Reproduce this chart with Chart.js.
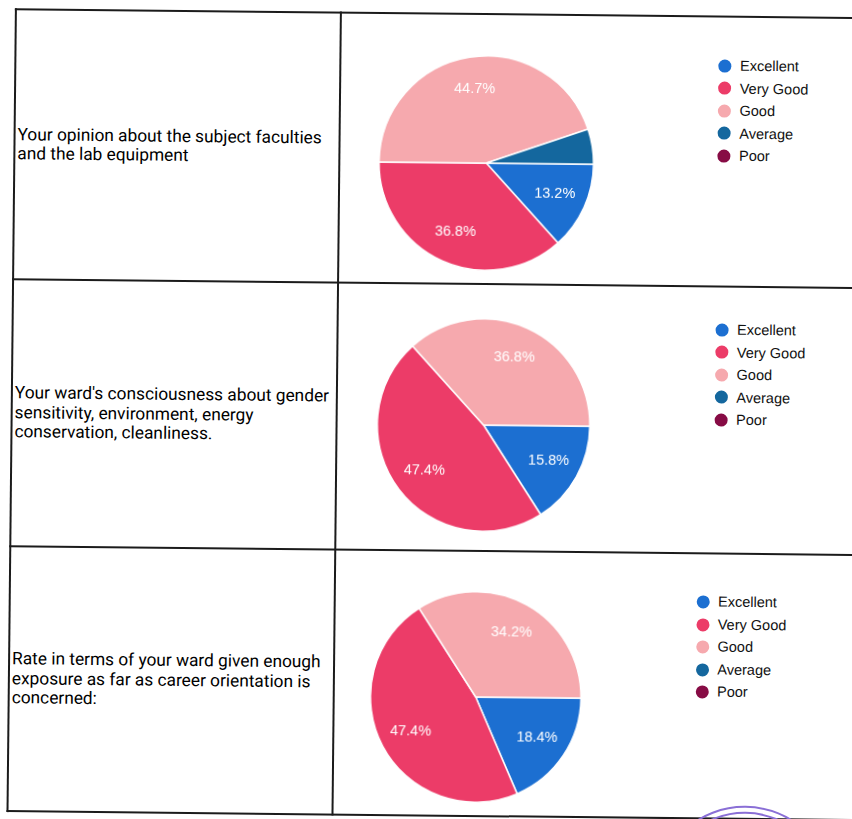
<!DOCTYPE html>
<html>
<head>
<meta charset="utf-8">
<script src="https://cdn.jsdelivr.net/npm/chart.js@4.4.1/dist/chart.umd.min.js"></script>
<style>
    html, body { margin: 0; padding: 0; background: #fff; overflow: hidden; }
    body { width: 852px; height: 819px; position: relative; }
    #page { position: absolute; left: 0; top: 0; width: 852px; height: 819px; transform: rotate(0.6deg); transform-origin: 0 0; }
    .linha { position: absolute; background: #1b1b1b; }
    .pergunta { position: absolute; display: flex; align-items: center; font-family: Roboto, 'Noto Sans', sans-serif; font-size: 17.3px; line-height: 19.5px; color: #000; white-space: nowrap; }
    .grafico { position: absolute; }
    .legenda { position: absolute; font-family: 'Liberation Sans', Arial, sans-serif; font-size: 14.5px; color: #111; }
    .legenda div { height: 22.5px; line-height: 22.5px; display: flex; align-items: center; white-space: nowrap; }
    .legenda span { display: inline-block; width: 13px; height: 13px; border-radius: 50%; margin-right: 8.5px; }
    .selo { position: absolute; border-radius: 50%; border: 2px solid #8a6fd6; }
</style>
</head>
<body>
<div id="page"></div>
<script>
// categorias e cores (Google Forms)
const categorias = ['Excellent', 'Very Good', 'Good', 'Average', 'Poor'];
const cores = ['#1c6fd1', '#ec3c68', '#f6a9ae', '#14679e', '#870c45'];

const perguntas = [
    ['Your opinion about the subject faculties', 'and the lab equipment'],
    ["Your ward's consciousness about gender", 'sensitivity, environment, energy', 'conservation, cleanliness.'],
    ['Rate in terms of your ward given enough', 'exposure as far as career orientation is', 'concerned:']
];

// percentuais
const valoresOpiniao = [13.2, 36.8, 44.7, 5.3, 0];
const valoresConsciencia = [15.8, 47.4, 36.8, 0, 0];
const valoresCarreira = [18.4, 47.4, 34.2, 0, 0];
const series = [valoresOpiniao, valoresConsciencia, valoresCarreira];

// geometria da tabela (linhas) e posição de cada pizza / legenda
const linhasY = [9, 279, 545.5, 811];
const colEsq = 16, colDiv = 341;
const layout = [
    { cx: 487.7, cy: 158, r: 107, lx: 725.7, ly: 58.4 },
    { cx: 488.4, cy: 419.5, r: 106, lx: 725.5, ly: 322.4 },
    { cx: 483.3, cy: 692, r: 105, lx: 709.3, ly: 594.6 }
];

const page = document.getElementById('page');

function addLinha(x, y, w, h) {
    const d = document.createElement('div');
    d.className = 'linha';
    d.style.left = x + 'px'; d.style.top = y + 'px';
    d.style.width = w + 'px'; d.style.height = h + 'px';
    page.appendChild(d);
}

// bordas da tabela
linhasY.forEach(y => addLinha(colEsq - 1, y - 1, 920, 2));
addLinha(colEsq - 1, linhasY[0] - 1, 2, linhasY[3] - linhasY[0] + 2);
addLinha(colDiv - 1, linhasY[0] - 1, 2, linhasY[3] - linhasY[0] + 2);

// textos da coluna esquerda
perguntas.forEach((linhas, i) => {
    const d = document.createElement('div');
    d.className = 'pergunta';
    d.style.left = (colEsq + 3) + 'px';
    d.style.top = linhasY[i] + 'px';
    d.style.height = (linhasY[i + 1] - linhasY[i]) + 'px';
    d.innerHTML = '<div>' + linhas.join('<br>') + '</div>';
    page.appendChild(d);
});

// rótulos de porcentagem dentro das fatias
const rotulosPlugin = {
    id: 'rotulos',
    afterDatasetsDraw(chart) {
        const ctx = chart.ctx;
        const meta = chart.getDatasetMeta(0);
        const dados = chart.data.datasets[0].data;
        const total = dados.reduce((a, b) => a + b, 0);
        ctx.save();
        ctx.fillStyle = '#ffffff';
        ctx.font = '14.5px "Liberation Sans", Arial, sans-serif';
        ctx.textAlign = 'center';
        ctx.textBaseline = 'middle';
        meta.data.forEach((arc, i) => {
            if (dados[i] / total < 0.08) return;
            const p = arc.getProps(['x', 'y', 'startAngle', 'endAngle', 'outerRadius'], true);
            const meio = (p.startAngle + p.endAngle) / 2;
            const d = p.outerRadius * 0.7;
            ctx.fillText(dados[i].toFixed(1) + '%', p.x + Math.cos(meio) * d, p.y + Math.sin(meio) * d);
        });
        ctx.restore();
    }
};

series.forEach((valores, i) => {
    const l = layout[i];
    const tam = Math.round(l.r * 2 + 2);
    const canvas = document.createElement('canvas');
    canvas.className = 'grafico';
    canvas.width = tam; canvas.height = tam;
    canvas.style.left = (l.cx - tam / 2) + 'px';
    canvas.style.top = (l.cy - tam / 2) + 'px';
    canvas.style.width = tam + 'px'; canvas.style.height = tam + 'px';
    page.appendChild(canvas);

    new Chart(canvas.getContext('2d'), {
        type: 'pie',
        data: {
            labels: categorias,
            datasets: [{
                data: valores,
                backgroundColor: cores,
                borderColor: '#ffffff',
                borderWidth: 1.5
            }]
        },
        options: {
            responsive: false,
            animation: false,
            rotation: 90,
            layout: { padding: 0 },
            plugins: { legend: { display: false }, tooltip: { enabled: false } }
        },
        plugins: [rotulosPlugin]
    });

    // legenda
    const leg = document.createElement('div');
    leg.className = 'legenda';
    leg.style.left = (l.lx - 6.5) + 'px';
    leg.style.top = (l.ly - 11.25) + 'px';
    categorias.forEach((c, k) => {
        const row = document.createElement('div');
        row.innerHTML = `<span style="background:${cores[k]}"></span>${c}`;
        leg.appendChild(row);
    });
    page.appendChild(leg);
});

// carimbo parcialmente visível no canto inferior
[[752, 886, 88], [752, 886, 82]].forEach(([x, y, r]) => {
    const s = document.createElement('div');
    s.className = 'selo';
    s.style.left = (x - r) + 'px'; s.style.top = (y - r) + 'px';
    s.style.width = (r * 2) + 'px'; s.style.height = (r * 2) + 'px';
    page.appendChild(s);
});
</script>
</body>
</html>
